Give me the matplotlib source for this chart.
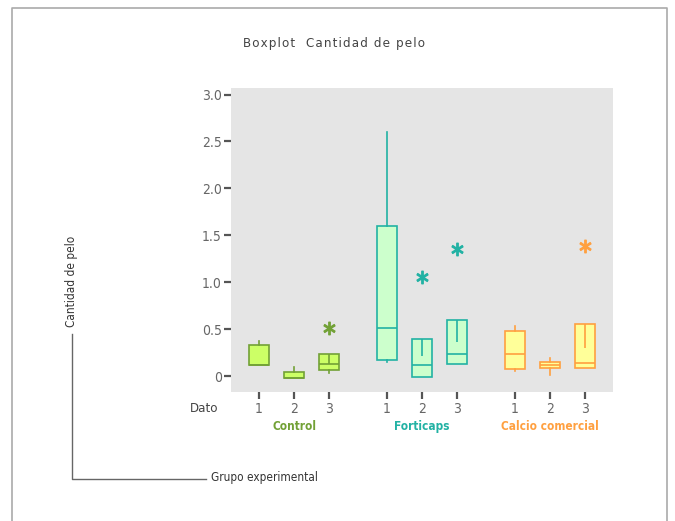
import matplotlib
matplotlib.use('Agg')
import matplotlib.pyplot as plt
import matplotlib.transforms as mtransforms
from matplotlib.lines import Line2D

plt.rcParams['font.family'] = ['DejaVu Sans']
plt.rcParams['font.stretch'] = 'condensed'

# datos
grupos = ['Control', 'Forticaps', 'Calcio comercial']
datos = ['1', '2', '3']
q1 = [0.12, -0.02, 0.06, 0.17, -0.01, 0.13, 0.08, 0.09, 0.09]
mediana = [0.12, -0.02, 0.13, 0.51, 0.12, 0.24, 0.24, 0.115, 0.14]
q3 = [0.33, 0.04, 0.23, 1.60, 0.40, 0.60, 0.485, 0.15, 0.56]
bigote_inf = [0.12, -0.02, 0.03, 0.15, -0.01, 0.13, 0.05, 0.01, 0.09]
bigote_sup = [0.375, 0.10, 0.23, 2.60, 0.40, 0.60, 0.535, 0.19, 0.56]
atipicos = [[], [], [0.51], [], [1.06], [1.35], [], [], [1.39]]
linea_interna = [None, None, 0.13, None, 0.21, 0.36, None, None, 0.30]
yticks = [0, 0.5, 1.0, 1.5, 2.0, 2.5, 3.0]
ytick_labels = ['0', '0.5', '1.0', '1.5', '2.0', '2.5', '3.0']

bordes = ['#72a136', '#22b2a4', '#ffa040']
rellenos = ['#ccff66', '#ccffcc', '#ffff99']

W, H = 675, 521
fig = plt.figure(figsize=(W / 100, H / 100), dpi=100)
ax = fig.add_axes([231 / W, 1 - 392 / H, 382 / W, 304 / H])
ax.set_facecolor('#e5e5e5')
for s in ax.spines.values():
    s.set_visible(False)

# posiciones: 3 cajas por grupo, hueco entre grupos
pos = []
for g in range(len(grupos)):
    for d in range(len(datos)):
        pos.append(g * 3.65 + d)

for i in range(len(pos)):
    g = i // 3
    st = dict(med=mediana[i], q1=q1[i], q3=q3[i], whislo=bigote_inf[i],
              whishi=bigote_sup[i], fliers=atipicos[i])
    ax.bxp([st], positions=[pos[i]], widths=0.57, patch_artist=True,
           showcaps=False,
           boxprops=dict(facecolor=rellenos[g], edgecolor=bordes[g], linewidth=1.2),
           medianprops=dict(color=bordes[g], linewidth=1.2),
           whiskerprops=dict(color=bordes[g], linewidth=1.2),
           flierprops=dict(marker='$*$', markersize=9, markerfacecolor=bordes[g],
                           markeredgecolor=bordes[g], linestyle='none'))
    if linea_interna[i] is not None:
        ax.vlines(pos[i], linea_interna[i], q3[i], color=bordes[g], linewidth=1.2, zorder=3)

ax.set_xlim(-0.8, 10.1)
ax.set_ylim(-0.17, 3.07)
ax.set_yticks(yticks)
ax.set_yticklabels(ytick_labels)
ax.set_xticks(pos)
ax.set_xticklabels(datos * 3)
ax.tick_params(axis='both', length=5, width=1.6, color='#555555', labelcolor='#666666',
               labelsize=10)
ax.tick_params(axis='y', pad=1.5)
ax.tick_params(axis='x', pad=2.5)

trans = mtransforms.blended_transform_factory(ax.transData, ax.transAxes)
for g in range(len(grupos)):
    ax.text(g * 3.65 + 1, -0.113, grupos[g], transform=trans, ha='center', va='center',
            color=bordes[g], fontsize=8.5, fontweight='bold')


def px(x, y):
    return x / W, 1 - y / H


fig.text(*px(204, 408), 'Dato', ha='center', va='center', color='#444444', fontsize=9.5)
fig.text(*px(243, 43), '\u200a'.join('Boxplot  Cantidad de pelo'), ha='left', va='center',
         color='#444444', fontsize=9.5)
fig.text(*px(72, 281), 'Cantidad de pelo', rotation=90, ha='center', va='center',
         color='#333333', fontsize=8.5)
fig.text(*px(211, 478), 'Grupo experimental', ha='left', va='center',
         color='#333333', fontsize=8.5)

# lineas del marco y conector
fig.add_artist(Line2D([72 / W, 72 / W, 206 / W], [1 - 334 / H, 1 - 479 / H, 1 - 479 / H],
                      transform=fig.transFigure, color='#666666', linewidth=1))
fig.add_artist(Line2D([12 / W, 12 / W, 667 / W, 667 / W], [0, 1 - 8 / H, 1 - 8 / H, 0],
                      transform=fig.transFigure, color='#aaaaaa', linewidth=1.2))

fig.savefig('out.png', dpi=100)
